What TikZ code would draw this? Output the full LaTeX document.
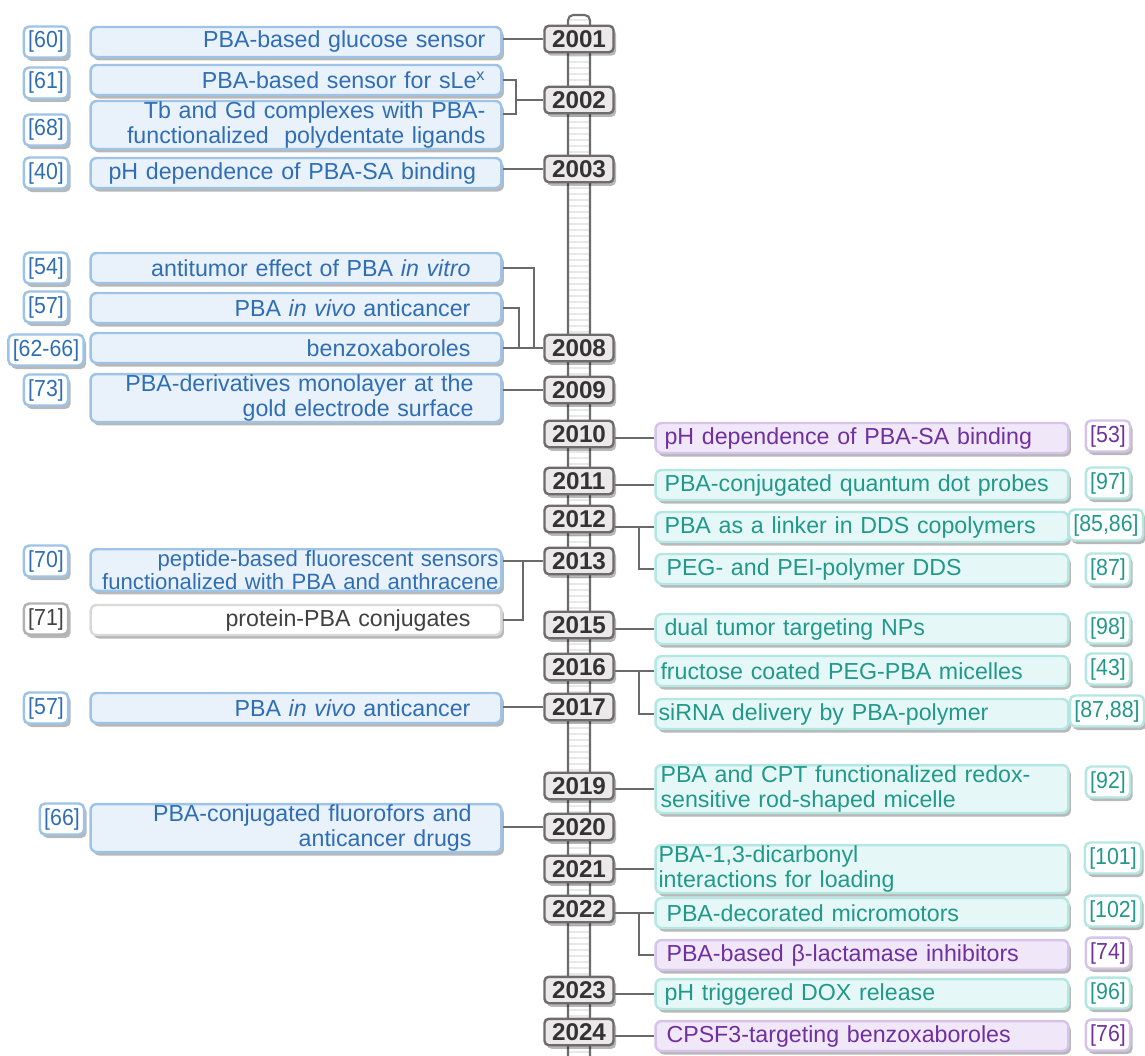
\documentclass[tikz,border=0pt]{standalone}
\usepackage{fontspec}
\setmainfont{Liberation Sans}
\newfontfamily\reffont[FakeStretch=0.92]{Liberation Sans}
\usepackage{tikz}
\usepackage{xcolor}
\usetikzlibrary{calc,positioning,shadows}
\definecolor{bluetext}{HTML}{2F6EB5}
\definecolor{blueline}{HTML}{9DC3E6}
\definecolor{bluefill}{HTML}{E9F1FB}
\definecolor{tealtext}{HTML}{21998A}
\definecolor{tealline}{HTML}{B4E6E2}
\definecolor{tealfill}{HTML}{E6F7F7}
\definecolor{purptext}{HTML}{7030A0}
\definecolor{purpline}{HTML}{D6C3EA}
\definecolor{purpfill}{HTML}{F0E7F8}
\definecolor{yearline}{HTML}{6D6B6B}
\definecolor{yearfill}{HTML}{EBE9E9}
\definecolor{yeartext}{HTML}{333333}
\definecolor{connline}{HTML}{6A6A6A}
\tikzset{%
	boxshadow/.style = {drop shadow={shadow xshift=0.05cm, shadow yshift=-0.07cm, opacity=0.28, fill=black}},
	yearbox/.style   = {draw=yearline, fill=yearfill, text=yeartext, line width=1.4pt, rounded corners=2.5pt, minimum width=1.38cm, minimum height=0.53cm, inner sep=0pt, font=\fontsize{13.8}{14}\selectfont\bfseries, boxshadow},
	event/.style     = {line width=1.4pt, rounded corners=3.5pt, minimum height=0.6cm, inner ysep=0.5pt, font=\fontsize{13.2}{14}\selectfont, boxshadow},
	leftbox/.style   = {event, draw=blueline, fill=bluefill, text=bluetext, minimum width=8.22cm, align=right},
	greybox/.style   = {event, draw=black!15, fill=white, text=black!75, minimum width=8.22cm, align=right},
	tealbox/.style   = {event, draw=tealline, fill=tealfill, text=tealtext, minimum width=8.26cm, align=left, inner xsep=0.18cm, text width=7.9cm},
	purpbox/.style   = {event, draw=purpline, fill=purpfill, text=purptext, minimum width=8.26cm, align=left, inner xsep=0.18cm, text width=7.9cm},
	refbox/.style    = {line width=1.4pt, rounded corners=3pt, fill=white, minimum height=0.62cm, inner xsep=2.5pt, inner ysep=0.5pt, font=\reffont\fontsize{13.2}{14}\selectfont, boxshadow},
	bref/.style      = {refbox, draw=blueline, text=bluetext},
	tref/.style      = {refbox, draw=tealline, text=tealtext},
	pref/.style      = {refbox, draw=purpline, text=purptext},
	gref/.style      = {refbox, draw=black!30, text=black!75},
	conn/.style      = {draw=connline, line width=0.85pt},
	rail/.style      = {draw=yearline, line width=1.2pt},
	rung/.style      = {draw=black!9, line width=0.6pt},
}

\begin{document}
\begin{tikzpicture}[x=0.02cm, y=-0.02cm]
	\useasboundingbox (0,0) rectangle (1145,1055);
	
	% ladder
	\foreach \y in {20,26,...,1052}
		\draw[rung] (569,\y) -- (589,\y);
	\draw[rail, rounded corners=3pt] (568,1056) -- (568,15) -- (590,15) -- (590,1056);
	
	% years
	\foreach \yr/\yy in {2001/39, 2002/100, 2003/169, 2008/348, 2009/390, 2010/434, 2011/481, 2012/519, 2013/561, 2015/625, 2016/667, 2017/707, 2019/786, 2020/827, 2021/869, 2022/909, 2023/990, 2024/1032}
		\node[yearbox] (y\yr) at (579,\yy) {\yr};
	
	% left events
	\node[leftbox, inner xsep=0.32cm, text width=7.58cm] (glucose) at (296,42) {PBA-based glucose sensor};
	\node[leftbox, inner xsep=0.32cm, text width=7.58cm] (sLex) at (296,80) {PBA-based sensor for sLe\textsuperscript{x}};
	\node[leftbox, inner xsep=0.32cm, text width=7.58cm] (tbgd) at (296,125) {Tb and Gd complexes with PBA-\\functionalized\ \ polydentate ligands};
	\node[leftbox, align=left, inner xsep=0.36cm, text width=7.5cm] (phsa) at (296,173) {pH dependence of PBA-SA binding};
	\node[leftbox, inner xsep=0.62cm, text width=6.98cm] (antitumor) at (296,268) {antitumor effect of PBA \textit{in vitro}};
	\node[leftbox, inner xsep=0.62cm, text width=6.98cm] (invivoA) at (296,308) {PBA \textit{in vivo} anticancer};
	\node[leftbox, inner xsep=0.62cm, text width=6.98cm] (benzox) at (296,348) {benzoxaboroles};
	\node[leftbox, inner xsep=0.56cm, text width=7.1cm] (monolayer) at (296,398) {PBA-derivatives monolayer at the\\gold electrode surface};
	\node[leftbox, inner xsep=0.06cm, text width=8.1cm, font=\fontsize{12.6}{13.4}\selectfont] (peptide) at (296,570) {peptide-based fluorescent sensors\\functionalized with PBA and anthracene};
	\node[greybox, inner xsep=0.62cm, text width=6.98cm] (protein) at (296,620) {protein-PBA conjugates};
	\node[leftbox, inner xsep=0.62cm, text width=6.98cm] (invivoB) at (296,708) {PBA \textit{in vivo} anticancer};
	\node[leftbox, inner xsep=0.6cm, text width=7.02cm] (fluoro) at (296,828) {PBA-conjugated fluorofors and\\anticancer drugs};
	
	\node[bref] (r60) at (46,42) {[60]};
	\node[bref] (r61) at (46,83) {[61]};
	\node[bref] (r68) at (46,130) {[68]};
	\node[bref] (r40) at (46,173) {[40]};
	\node[bref] (r54) at (46,268) {[54]};
	\node[bref] (r57a) at (46,307) {[57]};
	\node[bref] (r6266) at (46,350) {[62-66]};
	\node[bref] (r73) at (46,390) {[73]};
	\node[bref] (r70) at (46,561) {[70]};
	\node[gref] (r71) at (46,619) {[71]};
	\node[bref] (r57b) at (46,708) {[57]};
	\node[bref] (r66) at (62,819) {[66]};
	
	% right events
	\node[purpbox] (phsa2) at (862,438) {pH dependence of PBA-SA binding};
	\node[tealbox] (qdot) at (862,485) {PBA-conjugated quantum dot probes};
	\node[tealbox] (linker) at (862,527) {PBA as a linker in DDS copolymers};
	\node[tealbox, inner xsep=0.22cm, text width=7.82cm] (pegpei) at (862,569) {PEG- and PEI-polymer DDS};
	\node[tealbox] (dualnp) at (862,629) {dual tumor targeting NPs};
	\node[tealbox, inner xsep=0.1cm, text width=8.06cm] (fructose) at (862,671) {fructose coated PEG-PBA micelles};
	\node[tealbox, inner xsep=0.06cm, text width=8.14cm] (sirna) at (862,714) {siRNA delivery by PBA-polymer};
	\node[tealbox, inner xsep=0.1cm, text width=8.06cm] (cptmic) at (862,789) {PBA and CPT functionalized redox-\\sensitive rod-shaped micelle};
	\node[tealbox, inner xsep=0.06cm, text width=8.14cm] (dicarb) at (862,869) {PBA-1,3-dicarbonyl\\interactions for loading};
	\node[tealbox, inner xsep=0.22cm, text width=7.82cm] (micromot) at (862,913) {PBA-decorated micromotors};
	\node[purpbox, inner xsep=0.22cm, text width=7.82cm] (lactam) at (862,955) {PBA-based β-lactamase inhibitors};
	\node[tealbox] (doxrel) at (862,994) {pH triggered DOX release};
	\node[purpbox, inner xsep=0.22cm, text width=7.82cm] (cpsf) at (862,1036) {CPSF3-targeting benzoxaboroles};
	
	\node[pref] (r53) at (1108,436) {[53]};
	\node[tref] (r97) at (1108,483) {[97]};
	\node[tref] (r8586) at (1106,525) {[85,86]};
	\node[tref] (r87) at (1108,569) {[87]};
	\node[tref] (r98) at (1108,628) {[98]};
	\node[tref] (r43) at (1108,669) {[43]};
	\node[tref] (r8788) at (1107,711) {[87,88]};
	\node[tref] (r92) at (1108,782) {[92]};
	\node[tref] (r101) at (1113,858) {[101]};
	\node[tref] (r102) at (1113,911) {[102]};
	\node[pref] (r74) at (1108,953) {[74]};
	\node[tref] (r96) at (1108,993) {[96]};
	\node[pref] (r76) at (1108,1035) {[76]};
	
	% connectors, left
	\coordinate (j2002) at (516,100);
	\coordinate (j2008a) at (534,348);
	\coordinate (j2008b) at (519,348);
	\coordinate (j2013) at (523,562);
	\draw[conn] (y2001.west) -- (y2001.west -| glucose.east);
	\draw[conn] (sLex.east) -| (j2002) -- (y2002.west);
	\draw[conn] ([yshift=0.22cm]tbgd.east) -| (j2002);
	\draw[conn] (y2003.west) -- (y2003.west -| phsa.east);
	\draw[conn] (antitumor.east) -| (j2008a);
	\draw[conn] (invivoA.east) -| (j2008b);
	\draw[conn] (benzox.east) -- (y2008.west);
	\draw[conn] (monolayer.east |- y2009) -- (y2009.west);
	\draw[conn] (y2013.west) -- (y2013.west -| peptide.east);
	\draw[conn] (protein.east) -| (j2013);
	\draw[conn] (y2017.west) -- (y2017.west -| invivoB.east);
	\draw[conn] (y2020.west) -- (y2020.west -| fluoro.east);
	
	% connectors, right
	\coordinate (j2012) at (639,527);
	\coordinate (j2016) at (639,671);
	\coordinate (j2022) at (639,913);
	\draw[conn] (phsa2.west -| y2010.east) -- (phsa2.west);
	\draw[conn] (qdot.west -| y2011.east) -- (qdot.west);
	\draw[conn] (linker.west -| y2012.east) -- (linker.west);
	\draw[conn] (j2012) |- (pegpei.west);
	\draw[conn] (dualnp.west -| y2015.east) -- (dualnp.west);
	\draw[conn] (fructose.west -| y2016.east) -- (fructose.west);
	\draw[conn] (j2016) |- (sirna.west);
	\draw[conn] (cptmic.west -| y2019.east) -- (cptmic.west);
	\draw[conn] (dicarb.west -| y2021.east) -- (dicarb.west);
	\draw[conn] (micromot.west -| y2022.east) -- (micromot.west);
	\draw[conn] (j2022) |- (lactam.west);
	\draw[conn] (doxrel.west -| y2023.east) -- (doxrel.west);
	\draw[conn] (cpsf.west -| y2024.east) -- (cpsf.west);
	
\end{tikzpicture}
\end{document}
